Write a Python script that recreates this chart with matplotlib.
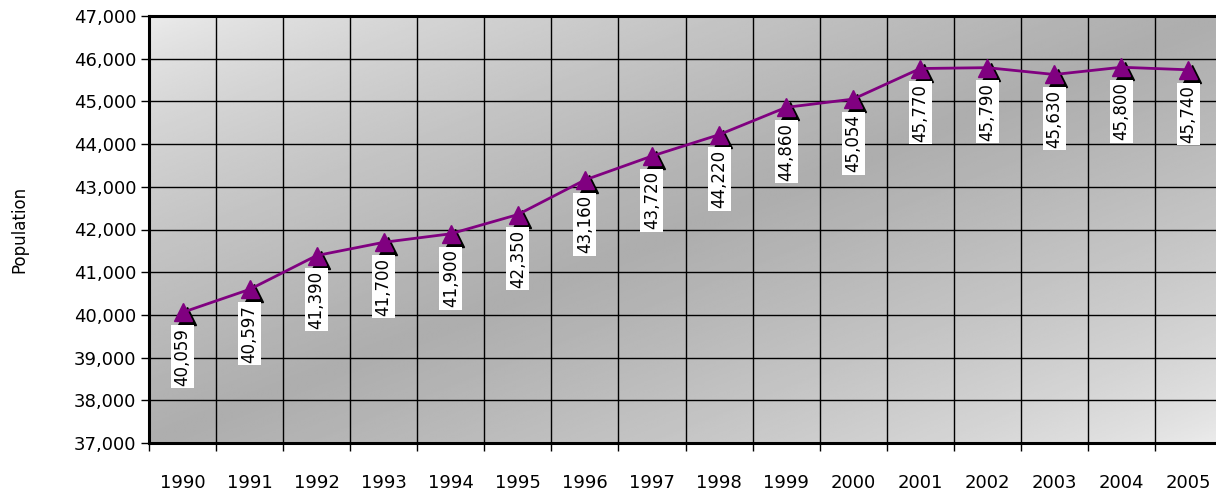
import numpy as np
import matplotlib
matplotlib.use("Agg")
from matplotlib import pyplot as plt
from matplotlib.ticker import FuncFormatter, MultipleLocator
import matplotlib.transforms as mtransforms

# data
years = ["1990", "1991", "1992", "1993", "1994", "1995", "1996", "1997",
         "1998", "1999", "2000", "2001", "2002", "2003", "2004", "2005"]
population = [40059, 40597, 41390, 41700, 41900, 42350, 43160, 43720,
              44220, 44860, 45054, 45770, 45790, 45630, 45800, 45740]

plt.rcParams['font.family'] = ['DejaVu Sans']

fig = plt.figure(figsize=(12.16, 4.93), dpi=100)
ax = fig.add_axes([149/1216, 1-443/493, 1073/1216, (443-16)/493])

x = np.arange(len(years))
ax.set_xlim(-0.5, len(years)-0.5)
ax.set_ylim(37000, 47000)

# gradient background
n = 300
gx, gy = np.meshgrid(np.linspace(0, 1, n), np.linspace(0, 1, n))
t = (gx + gy) / 2  # 0 top-left, 1 bottom-right
val = 0.93 - 0.25 * (1 - np.abs(2*t - 1)) ** 0.7
ax.imshow(val, cmap='gray', vmin=0, vmax=1, extent=[0, 1, 0, 1], origin='upper',
          transform=ax.transAxes, aspect='auto', zorder=0, interpolation='bilinear')

# grid
ax.yaxis.set_major_locator(MultipleLocator(1000))
ax.yaxis.set_major_formatter(FuncFormatter(lambda v, p: "{:,.0f}".format(v)))
ax.set_xticks(x)
ax.set_xticklabels(years)
ax.set_xticks(np.arange(len(years)+1) - 0.5, minor=True)
ax.grid(True, which='major', axis='y', color='black', lw=1.0, zorder=1)
ax.grid(True, which='minor', axis='x', color='black', lw=1.0, zorder=1)
ax.tick_params(axis='x', which='major', length=0, pad=22, labelsize=13)
ax.tick_params(axis='x', which='minor', length=6, width=1.0)
ax.tick_params(axis='y', length=6, width=1.0, labelsize=13, pad=3)

for s in ['left', 'bottom', 'top']:
    ax.spines[s].set_linewidth(2.2)
ax.spines['right'].set_visible(False)

# shadow markers
shadow = mtransforms.offset_copy(ax.transData, fig=fig, x=4, y=-4, units='dots')
ax.plot(x, population, linestyle='none', marker='^', ms=13, color='black',
        transform=shadow, zorder=3)
ax.plot(x, population, color='#800080', lw=2, marker='^', ms=13,
        markeredgecolor='#800080', zorder=4)

for xi, yi in zip(x, population):
    ax.annotate("{:,}".format(yi), (xi, yi), xytext=(0, -11), textcoords='offset points',
                rotation=90, ha='center', va='top', fontsize=12, zorder=5,
                bbox=dict(boxstyle='square,pad=0.15', fc='white', ec='none'))

ax.set_ylabel("Population", fontsize=12, labelpad=33)

fig.savefig("out.png", dpi=100)
